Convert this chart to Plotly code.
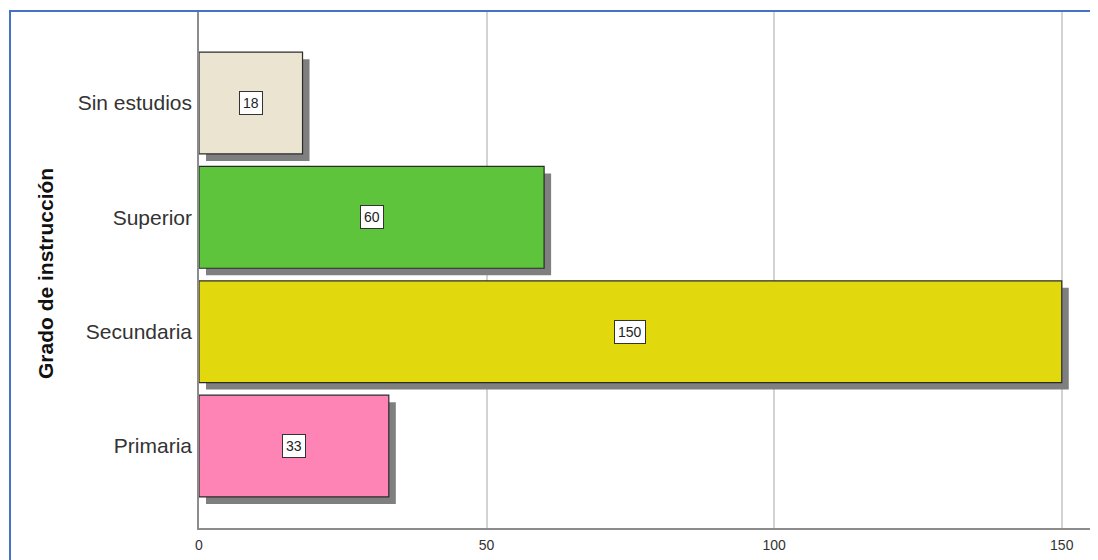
import plotly.graph_objects as go

categories = ["Primaria", "Secundaria", "Superior", "Sin estudios"]
values = [33, 150, 60, 18]
bar_colors = ["#FF84B6", "#E2D80E", "#5EC43B", "#EAE4D0"]
x_ticks = [0, 50, 100, 150]
axis_title = "Grado de instrucción"

OFF = 8  # page body margin
W, H = 1098 - OFF, 560 - OFF
PL, PT, PB = 199, 12, 528  # plot edges in screen px
L, R, T = PL - OFF, 0, PT - OFF
B = H - (PB - OFF)
plot_w = W - L - R
plot_h = H - T - B
x_max = 156.3
px_per_x = plot_w / x_max
y_range = [-0.717, 3.796]
px_per_y = plot_h / (y_range[1] - y_range[0])

BAR_W = 0.89
SH_DX = 7 / px_per_x
SH_DY = 7 / px_per_y

FONT = "Liberation Sans, Arial"

fig = go.Figure()
fig.add_trace(go.Bar(
    orientation="h", y=categories, x=values, base=SH_DX,
    width=BAR_W, offset=-BAR_W / 2 - SH_DY,
    marker=dict(color="#7F7F7F", line=dict(width=0)),
    hoverinfo="skip", showlegend=False,
))
fig.add_trace(go.Bar(
    orientation="h", y=categories, x=values,
    width=BAR_W, offset=-BAR_W / 2,
    marker=dict(color=bar_colors, line=dict(color="#2b2b2b", width=1.2)),
    showlegend=False,
))

for c, v in zip(categories, values):
    fig.add_annotation(
        x=v / 2, y=c, xref="x", yref="y", text=str(v), showarrow=False,
        bgcolor="white", bordercolor="#333333", borderwidth=1, borderpad=3,
        font=dict(family=FONT, size=14, color="#222222"),
    )

fig.add_annotation(
    x=(45 - PL) / plot_w, y=(PB - 274) / plot_h, xref="paper", yref="paper",
    xanchor="center", yanchor="middle",
    text="<b>" + axis_title + "</b>", textangle=-90, showarrow=False,
    font=dict(family=FONT, size=21, color="#111111"),
)

fig.add_shape(
    type="rect", xref="paper", yref="paper",
    x0=(10 - PL) / plot_w, x1=1.2, y0=-0.3, y1=(PB - 11) / plot_h,
    line=dict(color="#4472C4", width=2), fillcolor="rgba(0,0,0,0)",
)

fig.update_layout(
    width=W, height=H, margin=dict(l=L, r=R, t=T, b=B, pad=0),
    paper_bgcolor="white", plot_bgcolor="white", barmode="overlay",
    font=dict(family=FONT, color="#333333"),
    xaxis=dict(
        range=[0, x_max], tickvals=x_ticks, showgrid=True,
        gridcolor="#D3D3D3", gridwidth=1.5, zeroline=False,
        showline=True, linecolor="#8C8C8C", linewidth=1.5,
        ticks="", ticklabelstandoff=3, tickfont=dict(size=14, color="#333333"),
    ),
    yaxis=dict(
        range=y_range, showgrid=False, zeroline=False,
        showline=True, linecolor="#8C8C8C", linewidth=1.5,
        ticks="", ticklabelstandoff=1,
        tickfont=dict(size=21, color="#333333"),
    ),
)

fig.write_html("out.html")
